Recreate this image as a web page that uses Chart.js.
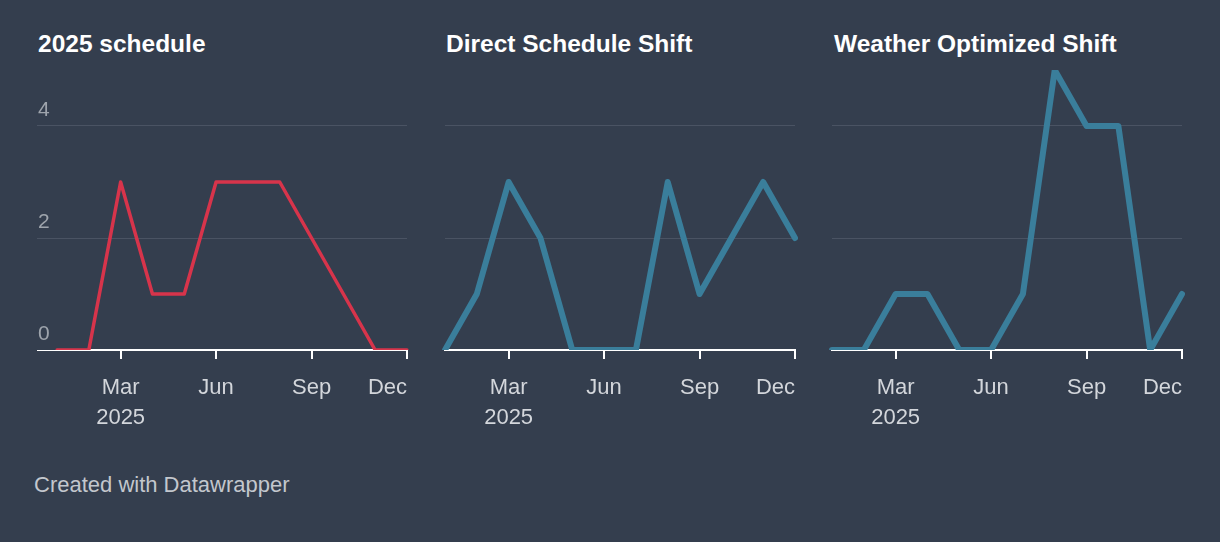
<!DOCTYPE html>
<html>
<head>
<meta charset="utf-8">
<script src="https://cdn.jsdelivr.net/npm/chart.js@4"></script>
<style>
  html, body { margin: 0; padding: 0; }
  body { width: 1220px; height: 542px; background: #343e4e; position: relative; overflow: hidden;
         font-family: "Liberation Sans", Helvetica, Arial, sans-serif; }
  .title { position: absolute; top: 32px; color: #ffffff; font-weight: bold; font-size: 24.5px; line-height: 24px; white-space: nowrap; }
  .panel { position: absolute; top: 60px; height: 395px; }
  .footer { position: absolute; left: 34px; top: 474px; color: #c3c7cd; font-size: 22px; line-height: 22px; }
</style>
</head>
<body>
<div class="title" style="left:38px">2025 schedule</div>
<div class="title" style="left:446px">Direct Schedule Shift</div>
<div class="title" style="left:834px">Weather Optimized Shift</div>

<div class="panel" style="left:37px;width:384px"><canvas id="c1"></canvas></div>
<div class="panel" style="left:431px;width:378px"><canvas id="c2"></canvas></div>
<div class="panel" style="left:818px;width:378px"><canvas id="c3"></canvas></div>

<div class="footer">Created with Datawrapper</div>

<script>
const months = ["Jan", "Feb", "Mar", "Apr", "May", "Jun", "Jul", "Aug", "Sep", "Oct", "Nov", "Dec"];
const xTickLabels = ["", "", ["Mar", "2025"], "", "", "Jun", "", "", "Sep", "", "", "Dec"];
const yTicks = [0, 2, 4];

const schedule2025 = [0, 0, 3, 1, 1, 3, 3, 3, 2, 1, 0, 0];
const directShift = [0, 1, 3, 2, 0, 0, 0, 3, 1, 2, 3, 2];
const weatherShift = [0, 0, 1, 1, 0, 0, 1, 5, 4, 4, 0, 1];

const FONT = "'Liberation Sans', Helvetica, Arial, sans-serif";
const GRID = "#4a5363";

// y labels sit above their grid line, left aligned in the gutter
const yLabelPlugin = {
  id: "yLabels",
  afterDraw(chart, args, opts) {
    if (!opts.show) return;
    const s = chart.scales.y;
    const ctx = chart.ctx;
    ctx.save();
    ctx.font = "21px " + FONT;
    ctx.fillStyle = "#9ea4ac";
    ctx.textAlign = "left";
    ctx.textBaseline = "alphabetic";
    yTicks.forEach((v) => ctx.fillText(String(v), s.left + 1, s.getPixelForValue(v) - 10));
    ctx.restore();
  }
};

function makeChart(id, values, color, width, showY) {
  new Chart(document.getElementById(id), {
    type: "line",
    data: {
      labels: months,
      datasets: [{
        data: values,
        borderColor: color,
        borderWidth: width,
        tension: 0,
        pointRadius: 0,
        pointHoverRadius: 0,
        borderJoinStyle: "round",
        borderCapStyle: "round"
      }]
    },
    plugins: [yLabelPlugin],
    options: {
      responsive: true,
      maintainAspectRatio: false,
      animation: false,
      events: [],
      layout: { padding: { top: 10, bottom: 8, left: 0, right: 0 } },
      plugins: {
        legend: { display: false },
        tooltip: { enabled: false },
        yLabels: { show: showY }
      },
      scales: {
        x: {
          z: 1,
          border: { display: true, color: "#ffffff", width: 2 },
          grid: {
            display: true,
            drawOnChartArea: false,
            drawTicks: true,
            tickLength: 9,
            lineWidth: 2,
            color: (c) => (xTickLabels[c.index] !== "" ? "#ffffff" : "rgba(0,0,0,0)")
          },
          ticks: {
            autoSkip: false,
            maxRotation: 0,
            align: "inner",
            padding: 14,
            color: "#d3d6db",
            font: { family: FONT, size: 22, lineHeight: 30 / 22 },
            callback: (v, i) => xTickLabels[i]
          }
        },
        y: {
          min: 0,
          max: 5,
          afterBuildTicks: (s) => { s.ticks = yTicks.map((v) => ({ value: v })); },
          border: { display: false },
          grid: {
            drawTicks: showY,
            tickLength: 20,
            lineWidth: 1,
            color: (c) => (c.tick && c.tick.value === 0 ? "#ffffff" : GRID)
          },
          ticks: { display: false }
        }
      }
    }
  });
}

makeChart("c1", schedule2025, "#d7344b", 3.5, true);
makeChart("c2", directShift, "#3a7e9b", 6, false);
makeChart("c3", weatherShift, "#3a7e9b", 6, false);
</script>
</body>
</html>
